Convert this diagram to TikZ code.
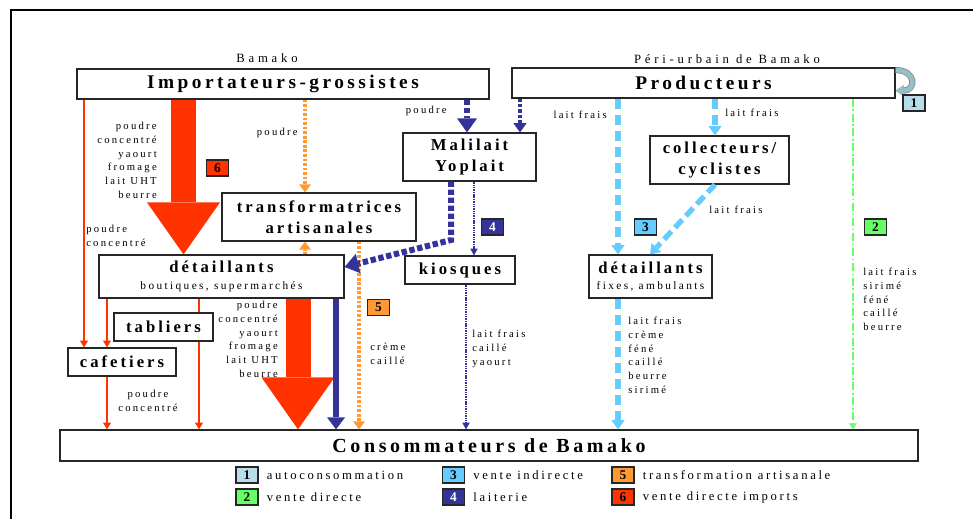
\documentclass[tikz,border=0pt]{standalone}
\usepackage{fontspec}
\setmainfont{Liberation Serif}
\newfontfamily\spfont[LetterSpace=21]{Liberation Serif}
\newfontfamily\hdfont[LetterSpace=30]{Liberation Serif}
\newfontfamily\ttlfont[LetterSpace=18]{Liberation Serif}
\usetikzlibrary{positioning}
\usetikzlibrary{arrows.meta}
\definecolor{redimp}{RGB}{255,51,0}
\definecolor{orgart}{RGB}{255,153,51}
\definecolor{bluelait}{RGB}{51,51,153}
\definecolor{bluevente}{RGB}{102,204,255}
\definecolor{greenvente}{RGB}{102,255,102}
\definecolor{tealauto}{RGB}{183,222,232}
\definecolor{loopteal}{RGB}{150,192,200}
\tikzset{box/.style = {draw=black!85, line width=0.9pt, fill=white, inner sep=0pt,
                       align=center, font=\ttlfont\bfseries\fontsize{12.5}{15.5}\selectfont}}
\tikzset{bigbox/.style = {box, font=\ttlfont\bfseries\fontsize{14.5}{16}\selectfont}}
\tikzset{tag/.style = {draw=black!85, line width=0.9pt, inner sep=0pt,
                       minimum width=16.5pt, minimum height=12pt,
                       font=\bfseries\fontsize{10}{10}\selectfont}}
\tikzset{lbl/.style = {inner sep=0pt, font=\spfont\fontsize{8}{10.3}\selectfont}}
\tikzset{hd/.style = {inner sep=0pt, font=\hdfont\fontsize{9.5}{11}\selectfont}}
\tikzset{leg/.style = {inner sep=0pt, font=\spfont\fontsize{9.5}{11}\selectfont}}
\tikzset{thinred/.style = {draw=redimp, line width=1.6pt,
                           -{Triangle[length=5pt, width=6pt, line width=0pt]}}}
\tikzset{fatred/.style = {draw=redimp, line width=18.75pt,
                          -{Triangle[length=39pt, width=54.75pt, line width=0pt]}}}
\tikzset{laitsolid/.style = {draw=bluelait, line width=4.5pt,
                             -{Triangle[length=9pt, width=13.5pt, line width=0pt]}}}
\tikzset{laitdash/.style = {draw=bluelait, line width=4.5pt, dash pattern=on 4pt off 2pt,
                            -{Triangle[length=10.5pt, width=15pt, line width=0pt]}}}
\tikzset{laitdashs/.style = {draw=bluelait, line width=3pt, dash pattern=on 2.5pt off 1.5pt,
                             -{Triangle[length=7pt, width=10pt, line width=0pt]}}}
\tikzset{laitdot/.style = {draw=bluelait, line width=1.2pt, dash pattern=on 0.8pt off 0.5pt,
                           -{Triangle[length=5pt, width=5.5pt, line width=0pt]}}}
\tikzset{artdot/.style = {draw=orgart, line width=2.6pt, dash pattern=on 2pt off 1.4pt,
                          -{Triangle[length=6pt, width=9pt, line width=0pt]}}}
\tikzset{indash/.style = {draw=bluevente, line width=4pt, dash pattern=on 8pt off 4pt,
                          -{Triangle[length=7pt, width=10pt, line width=0pt]}}}
\tikzset{dirdash/.style = {draw=greenvente, line width=1.5pt,
                           dash pattern=on 6pt off 2pt on 1.2pt off 2pt,
                           -{Triangle[length=4.5pt, width=6pt, line width=0pt]}}}
\tikzset{autoloop/.style = {draw=loopteal, line width=3.5pt,
                            preaction={draw=black!50, line width=4.6pt},
                            -{Triangle[length=6pt, width=8pt, line width=0pt]}}}

\begin{document}
\begin{tikzpicture}[x=0.75pt, y=-0.75pt]
  \useasboundingbox (0,0) rectangle (973,519);
  \draw[line width=1.6pt] (11,519) -- (11,10) -- (973,10);

  \node[hd] (bamako) at (267,58) {Bamako};
  \node[hd] (peri) at (727,59) {Péri-urbain de Bamako};

  \node[bigbox, minimum width=309pt, minimum height=22.5pt] (imp) at (283,84)
    {Importateurs-grossistes};
  \node[bigbox, minimum width=287.25pt, minimum height=22.5pt] (prod) at (703.5,83)
    {Producteurs};
  \node[box, minimum width=99.75pt, minimum height=36pt] (mali) at (469.5,157)
    {Malilait\\Yoplait};
  \node[box, minimum width=104.25pt, minimum height=36pt] (coll) at (719.5,160)
    {collecteurs/\\cyclistes};
  \node[box, minimum width=145.5pt, minimum height=36pt] (trans) at (319,217)
    {transformatrices\\artisanales};
  \node[box, minimum width=183.75pt, minimum height=32.25pt] (detl) at (221.5,276.5)
    {détaillants\\[-3pt]{\spfont\mdseries\fontsize{8.5}{10}\selectfont boutiques, supermarchés}};
  \node[box, minimum width=82.5pt, minimum height=21pt] (kios) at (460,270) {kiosques};
  \node[box, minimum width=92.25pt, minimum height=32.25pt] (detr) at (650.5,276.5)
    {détaillants\\[-3pt]{\spfont\mdseries\fontsize{8.5}{10}\selectfont fixes, ambulants}};
  \node[box, minimum width=74.25pt, minimum height=21pt] (tab) at (163.5,327) {tabliers};
  \node[box, minimum width=81pt, minimum height=21pt] (caf) at (122,362) {cafetiers};
  \node[box, minimum width=643.5pt, minimum height=23.25pt,
        font=\ttlfont\bfseries\fontsize{15}{17}\selectfont] (cons) at (489,445.5)
    {Consommateurs de Bamako};

  \draw[fatred] (imp.south -| 183.5,0) -- (detl.north -| 183.5,0);
  \draw[fatred] (detl.south -| 298,0) -- (cons.north -| 298,0);
  \draw[thinred] (imp.south -| 84,0) -- (caf.north -| 84,0);
  \draw[thinred] (detl.south -| 107,0) -- (caf.north -| 107,0);
  \draw[thinred] (caf.south -| 107,0) -- (cons.north -| 107,0);
  \draw[redimp, line width=1.6pt] (detl.south -| 199,0) -- (tab.north -| 199,0);
  \draw[thinred] (tab.south -| 199,0) -- (cons.north -| 199,0);
  \draw[laitsolid] (detl.south -| 336,0) -- (cons.north -| 336,0);
  \draw[artdot] (imp.south -| 305,0) -- (trans.north -| 305,0);
  \draw[artdot] (detl.north -| 305,0) -- (trans.south -| 305,0);
  \draw[artdot] (trans.south -| 359,0) -- (cons.north -| 359,0);
  \draw[laitdash] (imp.south -| 467,0) -- (mali.north -| 467,0);
  \draw[laitdashs] (prod.south -| 520,0) -- (mali.north -| 520,0);
  \draw[laitdash] (mali.south -| 451,0) -- (451,240) -- (detl.east |- 0,267);
  \draw[laitdot] (mali.south -| 474,0) -- (kios.north -| 474,0);
  \draw[laitdot] (kios.south -| 466,0) -- (cons.north -| 466,0);
  \draw[indash] (prod.south -| 618,0) -- (detr.north -| 618,0);
  \draw[indash] (prod.south -| 715,0) -- (coll.north -| 715,0);
  \draw[indash] (coll.south -| 715,0) -- (detr.north -| 650,0);
  \draw[indash] (detr.south -| 618,0) -- (cons.north -| 618,0);
  \draw[dirdash] (prod.south -| 853,0) -- (cons.north -| 853,0);
  \draw[autoloop] ([yshift=-2pt]prod.north east) to[out=0, in=0, looseness=2.6]
    ([yshift=6pt]prod.south east);

  \node[lbl, align=right, anchor=north east] (lst6a) at (157,122)
    {poudre\\concentré\\yaourt\\fromage\\lait UHT\\beurre};
  \node[lbl, align=left, anchor=north west] (lstimp) at (86,225) {poudre\\concentré};
  \node[lbl, anchor=east] (ptrans) at (298,133) {poudre};
  \node[lbl, anchor=east] (pmali) at (447,111) {poudre};
  \node[lbl, anchor=east] (lfdetr) at (607,115) {lait frais};
  \node[lbl, anchor=west] (lfcoll) at (725,113) {lait frais};
  \node[lbl, anchor=west] (lfdiag) at (709,210) {lait frais};
  \node[lbl, align=right, anchor=north east] (lst6b) at (278,301)
    {poudre\\concentré\\yaourt\\fromage\\lait UHT\\beurre};
  \node[lbl, align=left, anchor=north west] (lst5) at (370,343) {crème\\caillé};
  \node[lbl, align=left, anchor=north west] (lstkios) at (472,330)
    {lait frais\\caillé\\yaourt};
  \node[lbl, align=left, anchor=north west] (lstdetr) at (628,317)
    {lait frais\\crème\\féné\\caillé\\beurre\\sirimé};
  \node[lbl, align=left, anchor=north west] (lst2) at (863,268)
    {lait frais\\sirimé\\féné\\caillé\\beurre};
  \node[lbl, align=center, anchor=north] (lstcaf) at (148,390) {poudre\\concentré};

  \node[tag, fill=tealauto] (n1) at (914,103) {1};
  \node[tag, fill=redimp] (n6) at (217.5,168) {6};
  \node[tag, fill=bluelait, text=white] (n4) at (492.5,227) {4};
  \node[tag, fill=bluevente] (n3) at (645.5,227) {3};
  \node[tag, fill=greenvente] (n2) at (875.5,227) {2};
  \node[tag, fill=orgart] (n5) at (378.5,307.5) {5};

  \node[tag, fill=tealauto] (l1) at (247,475) {1};
  \node[leg, right=6pt of l1] (t1) {autoconsommation};
  \node[tag, fill=greenvente] (l2) at (247,497) {2};
  \node[leg, right=6pt of l2] (t2) {vente directe};
  \node[tag, fill=bluevente] (l3) at (453.5,475) {3};
  \node[leg, right=6pt of l3] (t3) {vente indirecte};
  \node[tag, fill=bluelait, text=white] (l4) at (453.5,497) {4};
  \node[leg, right=6pt of l4] (t4) {laiterie};
  \node[tag, fill=orgart] (l5) at (623,475) {5};
  \node[leg, right=6pt of l5] (t5) {transformation artisanale};
  \node[tag, fill=redimp] (l6) at (623,497) {6};
  \node[leg, right=6pt of l6] (t6) {vente directe imports};
\end{tikzpicture}
\end{document}
